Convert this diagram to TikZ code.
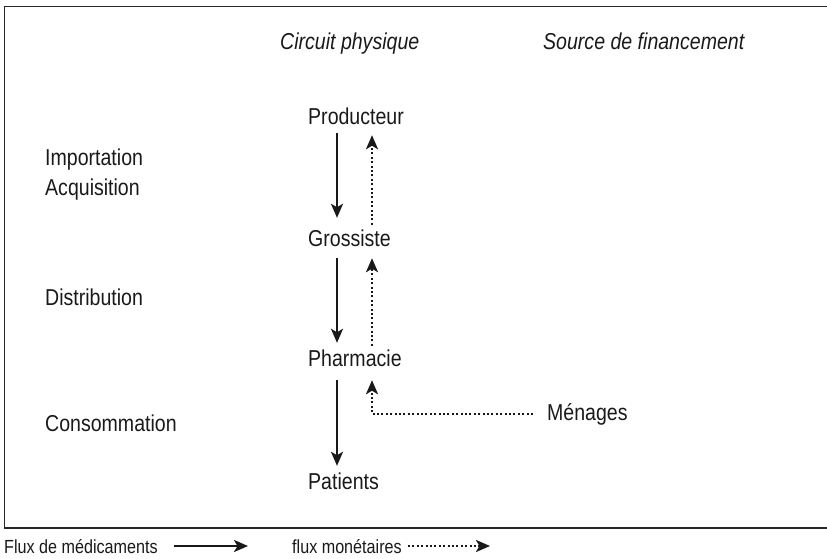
\documentclass[tikz,border=0pt]{standalone}
\usepackage{fontspec}
\setmainfont{Liberation Sans}[FakeStretch=0.85]
\usetikzlibrary{arrows.meta}
\begin{document}
\begin{tikzpicture}[x=1pt,y=-1pt,
  txt/.style={inner sep=0pt,anchor=base west,font=\fontsize{23}{27}\selectfont,text height=17pt,text depth=5pt,text=black!90},
  legtxt/.style={inner sep=0pt,anchor=base west,font=\fontsize{19}{23}\selectfont,text=black!90},
  med/.style={line width=2.4pt,black!90,-{Stealth[length=14pt,width=12pt,inset=3.5pt]}},
  mon/.style={line width=2.6pt,black!90,dash pattern=on 2pt off 2.4pt,-{Stealth[length=14pt,width=12pt,inset=3.5pt]}}]
\useasboundingbox (0,0) rectangle (827,558);
\draw[line width=1.8pt,black!85] (4.5,6.5) rectangle (845,528);
\coordinate (xs) at (337,0);
\coordinate (xd) at (372,0);
% headers
\node[txt,font=\fontsize{23}{27}\selectfont\itshape] (hc) at (280,49) {Circuit physique};
\node[txt,font=\fontsize{23}{27}\selectfont\itshape] (hs) at (543,49) {Source de financement};
% left labels
\node[txt] (imp) at (45,165) {Importation};
\node[txt] (acq) at (45,195) {Acquisition};
\node[txt] (dis) at (45,305) {Distribution};
\node[txt] (con) at (45,431) {Consommation};
% chain
\node[txt] (prod) at (308,124) {Producteur};
\node[txt] (gros) at (308,246) {Grossiste};
\node[txt] (phar) at (308,366) {Pharmacie};
\node[txt] (pat) at (308,489) {Patients};
\node[txt] (men) at (547,420) {Ménages};
% arrows
\draw[med] ([yshift=-4pt]prod.south -| xs) -- ([yshift=11pt]gros.north -| xs);
\draw[mon] ([yshift=4pt]gros.north -| xd) -- ([yshift=-6pt]prod.south -| xd);
\draw[med] ([yshift=-7pt]gros.south -| xs) -- ([yshift=6pt]phar.north -| xs);
\draw[mon] ([yshift=3pt]phar.north -| xd) -- ([yshift=-7pt]gros.south -| xd);
\draw[med] ([yshift=-9pt]phar.south -| xs) -- ([yshift=6pt]pat.north -| xs);
\draw[mon] ([xshift=-14pt]men.west) -| ([yshift=-9pt]phar.south -| xd);
% legend
\node[legtxt] (l1) at (4,553) {Flux de médicaments};
\coordinate (l1e) at (248,546);
\draw[med,line width=2.2pt] ([xshift=16pt,yshift=7pt]l1.base east) -- (l1e);
\node[legtxt] (l2) at (292,553) {flux monétaires};
\coordinate (l2e) at (490,546);
\draw[mon,line width=2.4pt] ([xshift=6pt,yshift=7pt]l2.base east) -- (l2e);
\end{tikzpicture}
\end{document}
